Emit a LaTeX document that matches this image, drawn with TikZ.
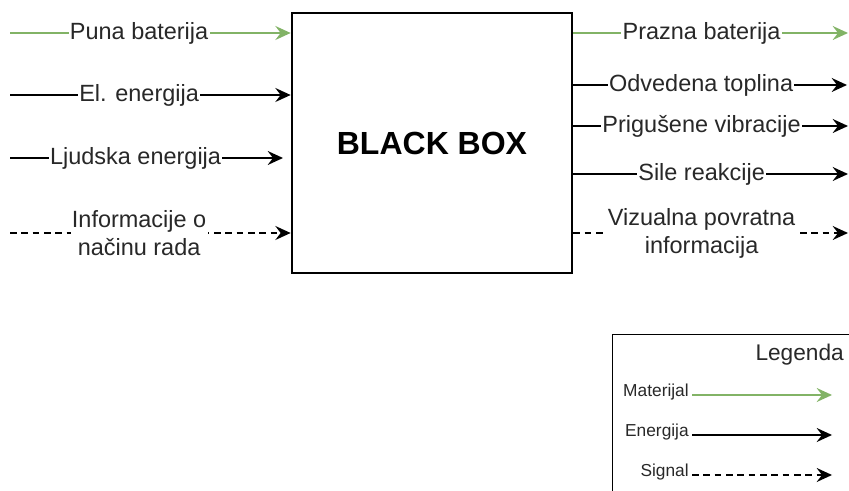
\documentclass[tikz,border=0pt]{standalone}
\usepackage{fontspec}
\setmainfont{Liberation Sans}
\usetikzlibrary{arrows.meta}
\definecolor{matgreen}{RGB}{130,179,102}
\definecolor{txtgray}{RGB}{40,40,40}
\begin{document}
\begin{tikzpicture}[x=0.75pt,y=-0.75pt,
  lbl/.style={fill=white,text=txtgray,inner sep=1pt,font=\fontsize{17.6}{21}\selectfont,align=center},
  flow/.style={line width=1.2pt,-{Stealth[length=11.5pt,width=10.5pt,inset=4pt]}},
  mat/.style={flow,draw=matgreen,color=matgreen},
  ener/.style={flow,draw=black},
  sig/.style={flow,draw=black,dash pattern=on 5pt off 3.5pt},
  leglbl/.style={inner sep=0pt,text=txtgray,font=\fontsize{13}{15}\selectfont,anchor=base east},
]
\useasboundingbox (0,0) rectangle (849,491);
\clip (0,0) rectangle (849,491);

% black box
\node[draw,line width=2pt,minimum width=210pt,minimum height=195pt,inner sep=0pt,
      font=\bfseries\fontsize{24}{29}\selectfont] (bb) at (432,143) {BLACK BOX};

% inputs
\coordinate (i1) at (10,33);
\coordinate (i2) at (10,95);
\coordinate (i3) at (10,158);
\coordinate (i3e) at (283,158);
\coordinate (i4) at (10,233);
\draw[mat] (i1) -- node[lbl,pos=0.46]{Puna baterija} (bb.west |- i1);
\draw[ener] (i2) -- node[lbl,pos=0.46]{El. energija} (bb.west |- i2);
\draw[ener] (i3) -- node[lbl,pos=0.46]{Ljudska energija} (i3e);
\draw[sig] (i4) -- node[lbl,pos=0.46]{Informacije o\\načinu rada} (bb.west |- i4);

% outputs
\coordinate (o1) at (848,33);
\coordinate (o2) at (847,85);
\coordinate (o3) at (848,126);
\coordinate (o4) at (848,174);
\coordinate (o5) at (848,233);
\draw[mat] (bb.east |- o1) -- node[lbl,pos=0.467]{Prazna baterija} (o1);
\draw[ener] (bb.east |- o2) -- node[lbl,pos=0.467]{Odvedena toplina} (o2);
\draw[ener] (bb.east |- o3) -- node[lbl,pos=0.467]{Prigušene vibracije} (o3);
\draw[ener] (bb.east |- o4) -- node[lbl,pos=0.467]{Sile reakcije} (o4);
\draw[sig] (bb.east |- o5) -- node[lbl,pos=0.467]{Vizualna povratna\\informacija} (o5);

% legend
\node[draw,line width=0.75pt,anchor=north west,minimum width=200pt,minimum height=130pt,inner sep=0pt] (leg) at (612,334) {};
\node[anchor=east,inner sep=0pt,text=txtgray,font=\fontsize{17}{20}\selectfont] (legt) at (844,355) {Legenda};
\node[leglbl] (lm) at (689,397) {Materijal};
\node[leglbl] (le) at (689,436.5) {Energija};
\node[leglbl] (ls) at (689,476.5) {Signal};
\coordinate (lms) at (692,395);
\coordinate (lme) at (832,395);
\coordinate (les) at (692,435);
\coordinate (lee) at (832,435);
\coordinate (lss) at (692,475);
\coordinate (lse) at (832,475);
\draw[mat] (lms) -- (lme);
\draw[ener] (les) -- (lee);
\draw[sig] (lss) -- (lse);
\end{tikzpicture}
\end{document}
